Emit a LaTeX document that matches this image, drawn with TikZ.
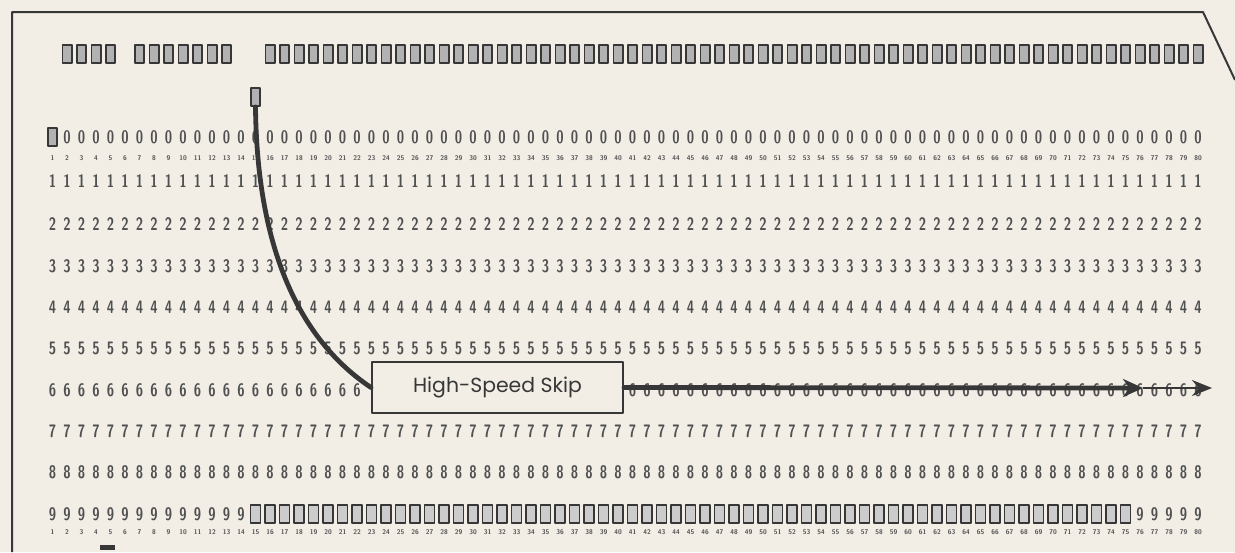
\documentclass[tikz,border=0pt]{standalone}
\usepackage{fontspec}
\newfontfamily\skipfont{Poppins}
\usetikzlibrary{arrows.meta,positioning}
\definecolor{cardbg}{RGB}{242,238,230}
\definecolor{ink}{RGB}{55,55,55}
\definecolor{digitink}{RGB}{80,80,80}
\tikzset{
  digit/.style={font=\sffamily\bfseries\fontsize{9}{9}\selectfont,text=digitink,inner sep=0pt,xscale=0.74},
  colnum/.style={font=\sffamily\bfseries\fontsize{3.4}{3.4}\selectfont,text=digitink,inner sep=0pt},
  hole/.style={draw=ink,fill=black!30,line width=0.9pt,minimum width=4.6pt,minimum height=9pt,inner sep=0pt},
  skipbox/.style={draw=ink,line width=1pt,fill=cardbg,minimum width=125.5pt,minimum height=25.5pt,
    font=\skipfont\fontsize{10.2}{12}\selectfont,text=ink},
  skipline/.style={draw=ink,line width=2.4pt,line cap=round},
}
\begin{document}
\begin{tikzpicture}[x=0.5pt,y=-0.5pt,line join=round]
\path[use as bounding box,fill=cardbg] (0,0) rectangle (1235,552);
% card edge with the cut corner
\draw[ink,line width=1pt] (12,552) -- (12,12) -- (1203,12) -- (1235,80);
% holes punched in the top rows
\foreach \c in {2,...,5,7,8,...,13,16,17,...,80}
  \node[hole] (t-\c) at ({52.5+(\c-1)*14.5},54) {};
\node[hole] (h-15) at ({52.5+14*14.5},97) {};
% zero row
\node[hole] (p0-1) at (52.5,137) {};
\foreach \c in {2,...,80}
  \node[digit] (d0-\c) at ({52.5+(\c-1)*14.5},137) {0};
% column numbers
\foreach \c in {1,...,80}{
  \node[colnum] (na-\c) at ({52.5+(\c-1)*14.5},158) {\c};
  \node[colnum] (nb-\c) at ({52.5+(\c-1)*14.5},532) {\c};
}
% digit rows
\foreach \r/\y in {1/181,2/224,3/266,4/307,5/348,7/431,8/472}
  \foreach \c in {1,...,80}
    \node[digit] (d\r-\c) at ({52.5+(\c-1)*14.5},\y) {\r};
\foreach \c in {1,...,22,41,42,...,80}
  \node[digit] (d6-\c) at ({52.5+(\c-1)*14.5},390) {6};
\foreach \c in {1,...,14,76,77,...,80}
  \node[digit] (d9-\c) at ({52.5+(\c-1)*14.5},514) {9};
\foreach \c in {15,...,75}
  \node[hole,fill=black!20,minimum width=5pt] (p9-\c) at ({52.5+(\c-1)*14.5},514) {};
\node[fill=ink,minimum width=7.5pt,minimum height=2.5pt,inner sep=0pt] (mark) at (107,547) {};
% skip
\node[skipbox] (skip) at (497.5,387.5) {High-Speed Skip};
\coordinate (tipA) at (1143,388);
\coordinate (tipB) at (1212,388);
\draw[skipline] (h-15.south) .. controls (257,250) and (300,340) .. (skip.west);
\draw[skipline,-{Stealth[length=10pt,width=9pt]}] (skip.east) -- (tipA);
\draw[ink,line width=1.2pt,-{Stealth[length=10pt,width=8pt]}] (tipA) -- (tipB);
\end{tikzpicture}
\end{document}
